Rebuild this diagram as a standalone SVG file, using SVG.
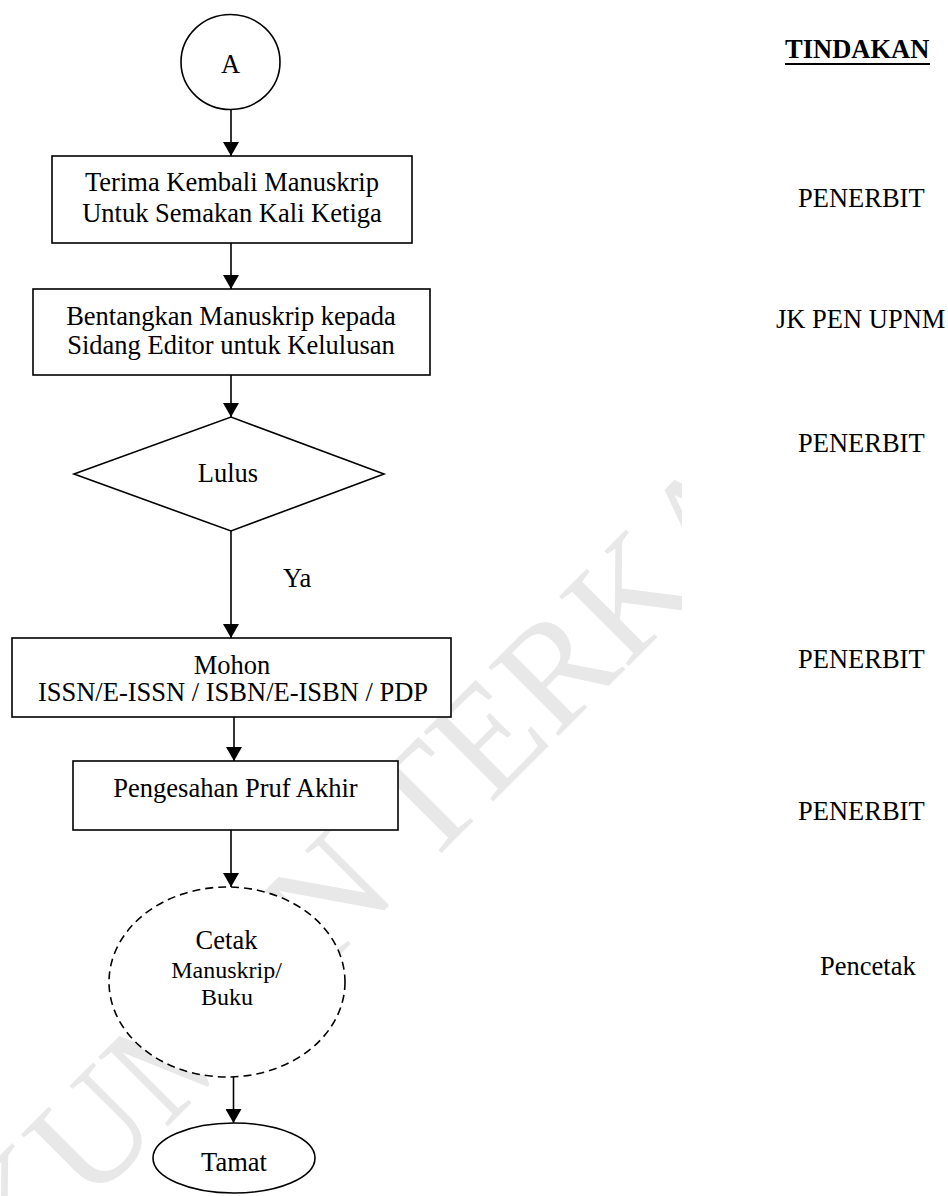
<svg xmlns="http://www.w3.org/2000/svg" width="948" height="1196" viewBox="0 0 948 1196">
<style>
text{font-family:"Liberation Serif","Times New Roman",serif;font-size:26.5px;fill:#000}
.c{text-anchor:middle}
.s{font-size:24px}
.shape{fill:#fff;stroke:#000;stroke-width:1.6}
.dash{fill:#fff;stroke:#000;stroke-width:1.6;stroke-dasharray:8 5}
.edge{stroke:#000;stroke-width:1.6;fill:none}
.wm{font-size:150px;fill:#e8e8e8}
</style>
<defs>
<marker id="ah" markerUnits="userSpaceOnUse" markerWidth="18" markerHeight="16" refX="14" refY="8" orient="auto">
<path d="M0,0 L14,8 L0,16 Z" fill="#000"/>
</marker>
<clipPath id="wmclip"><rect x="0" y="0" width="682" height="1196"/></clipPath>
</defs>
<rect width="948" height="1196" fill="#fff"/>
<g id="watermark" clip-path="url(#wmclip)">
<text class="wm" transform="translate(-141.6,1436) rotate(-45)">DOKUMEN TERKAWAL</text>
</g>
<g id="connectors">
<line class="edge" x1="231" y1="110" x2="231" y2="156" marker-end="url(#ah)"/>
<line class="edge" x1="231" y1="243" x2="231" y2="289" marker-end="url(#ah)"/>
<line class="edge" x1="231" y1="375" x2="231" y2="417" marker-end="url(#ah)"/>
<line class="edge" x1="231" y1="531" x2="231" y2="638" marker-end="url(#ah)"/>
<line class="edge" x1="234" y1="717" x2="234" y2="761" marker-end="url(#ah)"/>
<line class="edge" x1="231" y1="830" x2="231" y2="887" marker-end="url(#ah)"/>
<line class="edge" x1="233.5" y1="1077" x2="233.5" y2="1123" marker-end="url(#ah)"/>
</g>
<g id="nodeA"><ellipse class="shape" cx="230.5" cy="62" rx="49.5" ry="47.5"/><text class="c" x="230.5" y="73">A</text></g>
<g id="header"><text x="785" y="58" font-weight="bold">TINDAKAN</text><line x1="785" y1="64" x2="930" y2="64" stroke="#000" stroke-width="2"/></g>
<g id="box1"><rect class="shape" x="52" y="156" width="360" height="87"/><text class="c" x="232" y="191">Terima Kembali Manuskrip</text><text class="c" x="232" y="221.5">Untuk Semakan Kali Ketiga</text></g>
<g id="act1"><text x="798" y="207">PENERBIT</text></g>
<g id="box2"><rect class="shape" x="33" y="289" width="397" height="86"/><text class="c" x="231" y="325">Bentangkan Manuskrip kepada</text><text class="c" x="231" y="354">Sidang Editor untuk Kelulusan</text></g>
<g id="act2"><text x="776" y="328">JK PEN UPNM</text></g>
<g id="decision"><polygon class="shape" points="74,474 231,417 384,474 231,531"/><text class="c" x="228" y="482">Lulus</text></g>
<g id="act3"><text x="798" y="452">PENERBIT</text></g>
<g id="labelYa"><text x="283" y="587">Ya</text></g>
<g id="box3"><rect class="shape" x="12" y="638" width="439" height="79"/><text class="c" x="232" y="674">Mohon</text><text class="c" x="233" y="701">ISSN/E-ISSN / ISBN/E-ISBN / PDP</text></g>
<g id="act4"><text x="798" y="668">PENERBIT</text></g>
<g id="box4"><rect class="shape" x="73" y="761" width="325" height="69"/><text class="c" x="235.5" y="797">Pengesahan Pruf Akhir</text></g>
<g id="act5"><text x="798" y="820">PENERBIT</text></g>
<g id="print"><ellipse class="dash" cx="227" cy="982" rx="118" ry="95"/><text class="c" x="226.5" y="949">Cetak</text><text class="c s" x="226.5" y="978">Manuskrip/</text><text class="c s" x="227" y="1005">Buku</text></g>
<g id="act6"><text x="820" y="975">Pencetak</text></g>
<g id="end"><ellipse class="shape" cx="234" cy="1158" rx="81" ry="35"/><text class="c" x="234" y="1171">Tamat</text></g>
</svg>
